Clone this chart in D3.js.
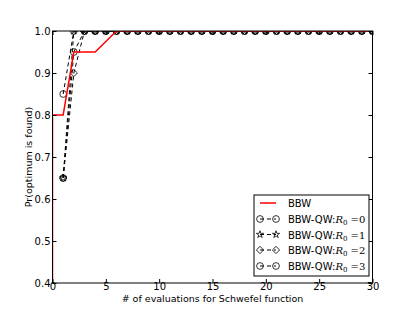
<html>
<script src="https://d3js.org/d3.v7.min.js"></script>
<style>
  body { margin: 0; background: #fff; }
  text { font-family: "DejaVu Sans", sans-serif; }
</style>
<body>
<svg width="415" height="313"></svg>
<script>

// BBW curve (x, y pairs)
var bbwX = [0, 0, 1, 2, 3, 4, 5, 6, 7, 8, 9, 10, 11, 12, 13, 14, 15, 16, 17, 18, 19, 20, 21, 22, 23, 24, 25, 26, 27, 28, 29, 30];
var bbwY = [0, 0.8, 0.8, 0.95, 0.95, 0.95, 0.975, 1, 1, 1, 1, 1, 1, 1, 1, 1, 1, 1, 1, 1, 1, 1, 1, 1, 1, 1, 1, 1, 1, 1, 1, 1];

// BBW-QW curves, evaluations 1..30
var qwX = d3.range(1, 31);
var ones = qwX.map(function() { return 1; });
var qwR0 = [0.85, 1].concat(ones.slice(2));
var qwR1 = [0.65, 1].concat(ones.slice(2));
var qwR2 = [0.65, 0.9, 1].concat(ones.slice(3));
var qwR3 = [0.65, 0.95, 1].concat(ones.slice(3));

var qwSeries = [
  {name: "0", values: qwR0, marker: "circle"},
  {name: "1", values: qwR1, marker: "star"},
  {name: "2", values: qwR2, marker: "diamond"},
  {name: "3", values: qwR3, marker: "circle"}
];

var xTicks = [0, 5, 10, 15, 20, 25, 30];
var yTicks = [0.4, 0.5, 0.6, 0.7, 0.8, 0.9, 1.0];

var axL = 52.5, axR = 372.5, axT = 31, axB = 283;

var x = d3.scaleLinear().domain([0, 30]).range([axL, axR]);
var y = d3.scaleLinear().domain([0.4, 1.0]).range([axB, axT]);

var svg = d3.select("svg");

svg.append("clipPath").attr("id", "clip")
  .append("rect").attr("x", axL).attr("y", axT).attr("width", axR - axL).attr("height", axB - axT);

var plot = svg.append("g").attr("clip-path", "url(#clip)");

var line = d3.line().x(d => x(d[0])).y(d => y(d[1]));

// marker shapes
var symbols = {
  circle: d3.symbol().type(d3.symbolCircle).size(36),
  star: d3.symbol().type(d3.symbolStar).size(16),
  diamond: d3.symbol().type(d3.symbolSquare).size(26)
};
function drawMarker(g, kind, px, py) {
  var p = g.append("path")
    .attr("d", symbols[kind]())
    .attr("fill", "none")
    .attr("stroke", "black")
    .attr("stroke-width", 0.8);
  if (kind === "diamond") p.attr("transform", "translate(" + px + "," + py + ") rotate(45)");
  else p.attr("transform", "translate(" + px + "," + py + ")");
}

// QW dashed lines and markers
qwSeries.forEach(function(s) {
  var pts = qwX.map((v, i) => [v, s.values[i]]);
  plot.append("path")
    .attr("d", line(pts))
    .attr("fill", "none")
    .attr("stroke", "black")
    .attr("stroke-width", 1)
    .attr("stroke-dasharray", "4,3");
  pts.forEach(function(p) { drawMarker(plot, s.marker, x(p[0]), y(p[1])); });
});

// BBW red line
plot.append("path")
  .attr("d", line(bbwX.map((v, i) => [v, bbwY[i]])))
  .attr("fill", "none")
  .attr("stroke", "#ff0000")
  .attr("stroke-width", 1.5);

// frame
svg.append("rect")
  .attr("x", axL).attr("y", axT).attr("width", axR - axL).attr("height", axB - axT)
  .attr("fill", "none").attr("stroke", "black").attr("stroke-width", 1);

// axes with inward ticks on all sides
var xb = svg.append("g").attr("transform", "translate(0," + axB + ")")
  .call(d3.axisBottom(x).tickValues(xTicks).tickSizeInner(-4).tickSizeOuter(0).tickPadding(0));
var xt = svg.append("g").attr("transform", "translate(0," + axT + ")")
  .call(d3.axisTop(x).tickValues(xTicks).tickSizeInner(-4).tickSizeOuter(0).tickFormat(""));
var yl = svg.append("g").attr("transform", "translate(" + axL + ",0)")
  .call(d3.axisLeft(y).tickValues(yTicks).tickSizeInner(-4).tickSizeOuter(0).tickPadding(2).tickFormat(d3.format(".1f")));
var yr = svg.append("g").attr("transform", "translate(" + axR + ",0)")
  .call(d3.axisRight(y).tickValues(yTicks).tickSizeInner(-4).tickSizeOuter(0).tickFormat(""));
[xb, xt, yl, yr].forEach(function(g) {
  g.select(".domain").remove();
  g.selectAll("text").attr("font-size", 10).attr("fill", "black").style("font-family", "DejaVu Sans");
  g.selectAll("line").attr("stroke", "black");
});

svg.append("text")
  .attr("x", (axL + axR) / 2).attr("y", 302)
  .attr("text-anchor", "middle").attr("font-size", 9.5)
  .text("# of evaluations for Schwefel function");

svg.append("text")
  .attr("transform", "translate(32," + (axT + axB) / 2 + ") rotate(-90)")
  .attr("text-anchor", "middle").attr("font-size", 9.5)
  .text("Pr(optimum is found)");

// legend
var lg = svg.append("g");
lg.append("rect").attr("x", 254).attr("y", 195).attr("width", 115).attr("height", 81)
  .attr("fill", "white").attr("stroke", "black").attr("stroke-width", 1);

var rowY = [203, 219, 234.5, 250, 266];
lg.append("line").attr("x1", 260).attr("x2", 276).attr("y1", rowY[0]).attr("y2", rowY[0])
  .attr("stroke", "#ff0000").attr("stroke-width", 1.5);
lg.append("text").attr("x", 288).attr("y", rowY[0] + 4).attr("font-size", 10).text("BBW");

qwSeries.forEach(function(s, i) {
  var ry = rowY[i + 1];
  lg.append("line").attr("x1", 260).attr("x2", 276).attr("y1", ry).attr("y2", ry)
    .attr("stroke", "black").attr("stroke-width", 1).attr("stroke-dasharray", "4,3");
  drawMarker(lg, s.marker, 260, ry);
  drawMarker(lg, s.marker, 276, ry);
  var t = lg.append("text").attr("x", 288).attr("y", ry + 4).attr("font-size", 10);
  t.append("tspan").text("BBW-QW:");
  t.append("tspan").attr("font-family", "DejaVu Serif").attr("font-style", "italic").text("R");
  t.append("tspan").attr("font-family", "DejaVu Serif").attr("font-size", 7).attr("dy", 2).text("0");
  t.append("tspan").attr("font-family", "DejaVu Serif").attr("dy", -2).text(" =" + s.name);
});

</script>
</body>
</html>
